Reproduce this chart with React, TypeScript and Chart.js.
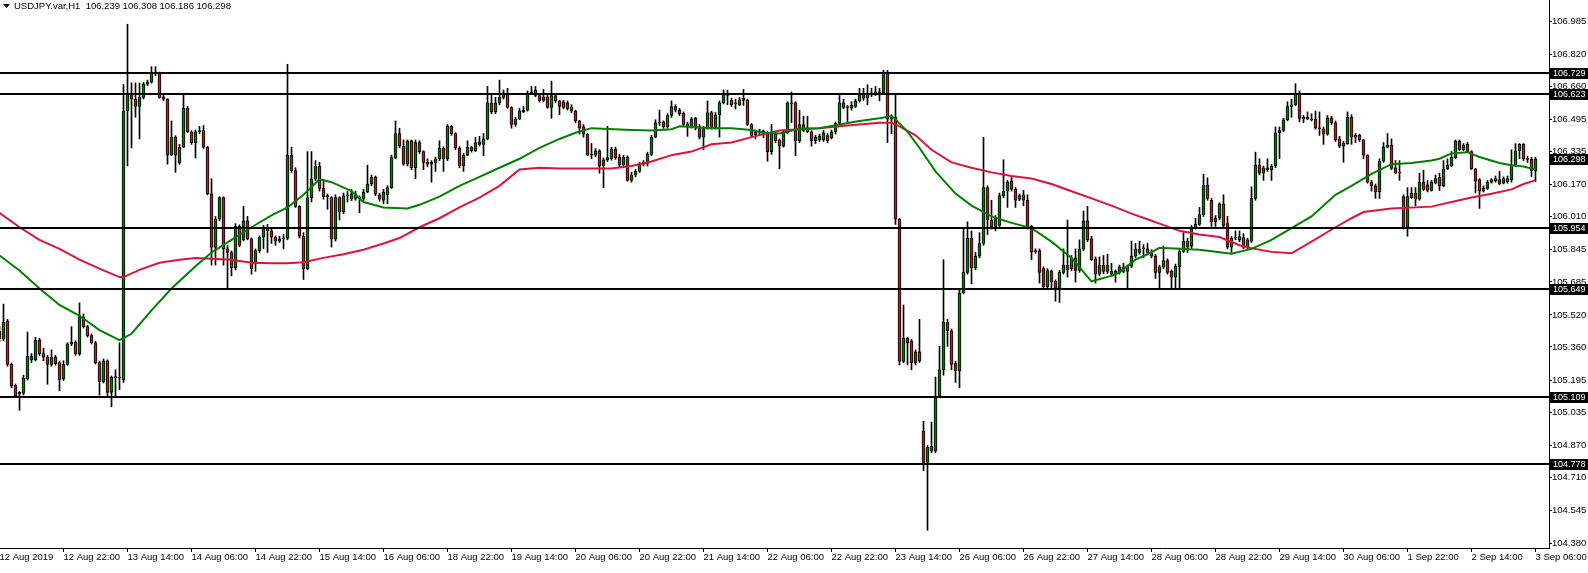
import React, { useEffect, useRef } from 'react';
import { Chart, registerables } from 'chart.js';

Chart.register(...registerables);

// ---- Data (USDJPY H1) ----
const opens = [
  105.440,105.399,105.489,105.273,105.169,105.133,105.129,105.201,105.295,105.295,
  105.394,105.327,105.309,105.273,105.309,105.282,105.201,105.273,105.376,105.385,
  105.327,105.511,105.462,105.417,105.381,105.282,105.187,105.291,105.133,105.212,
  105.205,105.196,106.540,106.621,106.598,106.561,106.607,106.673,106.682,106.733,
  106.727,106.610,106.598,106.318,106.408,106.279,106.358,106.552,106.435,106.381,
  106.435,106.441,106.358,106.125,105.857,105.999,106.106,105.850,105.832,105.756,
  105.962,105.895,105.990,105.900,105.778,105.841,105.909,105.958,105.940,105.909,
  105.889,105.900,105.904,106.318,106.241,106.062,105.913,105.751,106.106,106.198,
  106.264,106.152,106.111,106.106,105.898,106.106,106.034,106.115,106.098,106.125,
  106.102,106.102,106.134,106.174,106.207,106.120,106.093,106.120,106.156,106.306,
  106.426,106.363,106.273,106.390,106.255,106.381,106.336,106.282,106.273,106.279,
  106.300,106.354,106.300,106.462,106.426,106.354,106.264,106.318,106.358,106.340,
  106.372,106.372,106.399,106.579,106.534,106.579,106.607,106.628,106.556,106.471,
  106.498,106.534,106.543,106.628,106.643,106.616,106.610,106.610,106.556,106.616,
  106.589,106.585,106.552,106.560,106.538,106.489,106.459,106.423,106.318,106.318,
  106.340,106.264,106.295,106.300,106.349,106.309,106.268,106.309,106.192,106.219,
  106.237,106.273,106.277,106.322,106.408,106.480,106.484,106.459,106.516,106.561,
  106.543,106.527,106.475,106.459,106.502,106.459,106.408,106.453,106.531,106.453,
  106.520,106.579,106.621,106.592,106.574,106.570,106.603,106.592,106.471,106.421,
  106.435,106.439,106.430,106.336,106.426,106.394,106.363,106.430,106.574,106.579,
  106.390,106.471,106.453,106.435,106.390,106.394,106.394,106.416,106.405,106.435,
  106.477,106.579,106.556,106.553,106.561,106.589,106.625,106.603,106.628,106.621,
  106.634,106.628,106.733,106.498,106.507,105.998,105.288,105.405,105.390,105.282,
  105.336,104.940,104.783,104.864,104.841,105.115,105.246,105.484,105.441,105.277,
  105.241,105.630,105.733,105.904,105.756,105.814,105.877,106.156,105.994,105.958,
  105.967,106.116,106.138,106.188,106.147,106.098,106.120,106.093,105.962,105.835,
  105.841,105.751,105.661,105.738,105.688,105.652,105.733,105.769,105.751,105.805,
  105.742,105.850,105.990,105.900,105.800,105.724,105.769,105.738,105.738,105.724,
  105.733,105.760,105.738,105.763,105.814,105.832,105.850,105.850,105.835,105.814,
  105.733,105.760,105.792,105.738,105.709,105.760,105.837,105.889,105.864,105.958,
  105.972,106.021,106.169,106.093,105.985,106.003,106.075,105.976,105.859,105.904,
  105.895,105.907,105.859,105.889,106.102,106.268,106.228,106.255,106.246,106.264,
  106.430,106.441,106.495,106.561,106.570,106.625,106.507,106.498,106.498,106.498,
  106.453,106.450,106.423,106.504,106.480,106.399,106.363,106.376,106.507,106.408,
  106.417,106.394,106.318,106.183,106.165,106.134,106.288,106.358,106.369,106.255,
  106.228,106.111,105.958,106.106,106.129,106.098,106.183,106.170,106.142,106.178,
  106.207,106.165,106.250,106.264,106.306,106.387,106.345,106.372,106.336,106.250,
  106.196,106.138,106.152,106.183,106.188,106.196,106.178,106.183,106.196,106.268,
  106.340,106.372,106.300,106.297,106.239,
];

const highs = [
  105.465,105.574,105.498,105.280,105.175,105.138,105.219,105.435,105.327,105.408,
  105.403,105.354,105.318,105.345,105.318,105.290,105.291,105.381,105.462,105.390,
  105.580,105.525,105.468,105.425,105.388,105.290,105.300,105.296,105.215,105.246,
  105.381,106.670,106.972,106.679,106.679,106.679,106.682,106.693,106.760,106.760,
  106.733,106.621,106.600,106.489,106.415,106.372,106.619,106.561,106.440,106.444,
  106.462,106.466,106.362,106.201,106.012,106.111,106.110,105.868,105.840,105.976,
  105.970,106.062,106.012,105.905,105.850,105.915,105.967,105.972,105.949,105.915,
  105.913,105.922,106.772,106.358,106.255,106.066,105.931,106.336,106.336,106.291,
  106.282,106.192,106.124,106.111,106.120,106.110,106.129,106.138,106.147,106.138,
  106.115,106.147,106.268,106.219,106.214,106.129,106.147,106.165,106.318,106.489,
  106.453,106.394,106.394,106.394,106.394,106.390,106.340,106.300,106.291,106.309,
  106.390,106.360,106.471,106.466,106.430,106.360,106.327,106.390,106.363,106.408,
  106.412,106.426,106.661,106.616,106.607,106.693,106.643,106.652,106.560,106.507,
  106.552,106.561,106.639,106.661,106.661,106.621,106.646,106.616,106.688,106.621,
  106.592,106.592,106.589,106.570,106.543,106.492,106.471,106.426,106.376,106.351,
  106.345,106.304,106.462,106.358,106.358,106.322,106.318,106.315,106.232,106.246,
  106.282,106.291,106.333,106.417,106.495,106.543,106.489,106.525,106.589,106.570,
  106.552,106.534,106.484,106.507,106.507,106.471,106.462,106.589,106.538,106.531,
  106.589,106.643,106.643,106.603,106.598,106.607,106.646,106.598,106.475,106.444,
  106.448,106.444,106.435,106.471,106.435,106.399,106.441,106.585,106.634,106.585,
  106.543,106.513,106.513,106.440,106.417,106.423,106.441,106.426,106.444,106.484,
  106.616,106.598,106.567,106.585,106.598,106.652,106.652,106.670,106.652,106.661,
  106.652,106.742,106.742,106.520,106.621,106.003,105.570,105.408,105.399,105.345,
  105.498,104.989,104.868,104.985,105.210,105.363,105.796,105.498,105.450,105.288,
  105.643,105.958,105.985,105.940,105.832,105.931,106.408,106.165,106.093,106.016,
  106.129,106.295,106.192,106.210,106.156,106.124,106.142,106.120,105.967,105.850,
  105.850,105.760,105.751,105.745,105.695,105.742,105.850,105.994,105.817,105.850,
  105.895,106.039,106.062,105.913,105.810,105.810,105.817,105.823,105.778,105.745,
  105.769,105.778,105.769,105.889,105.877,105.889,105.871,105.877,105.846,105.823,
  105.769,105.864,105.800,105.745,105.774,105.850,105.931,105.904,105.967,106.003,
  106.057,106.223,106.205,106.102,106.016,106.080,106.120,106.012,105.913,105.940,
  105.940,105.926,105.904,106.160,106.333,106.300,106.264,106.300,106.273,106.459,
  106.459,106.502,106.585,106.598,106.675,106.639,106.516,106.534,106.525,106.538,
  106.534,106.459,106.516,106.513,106.489,106.412,106.387,106.534,106.520,106.426,
  106.423,106.397,106.320,106.192,106.174,106.300,106.381,106.426,106.399,106.291,
  106.291,106.120,106.156,106.156,106.156,106.228,106.243,106.192,106.192,106.219,
  106.228,106.291,106.300,106.336,106.394,106.394,106.376,106.381,106.340,106.252,
  106.201,106.165,106.192,106.201,106.214,106.237,106.210,106.214,106.345,106.376,
  106.376,106.376,106.311,106.307,106.308,
];

const lows = [
  105.385,105.390,105.264,105.156,105.108,105.044,105.120,105.195,105.282,105.290,
  105.318,105.291,105.174,105.264,105.270,105.142,105.192,105.268,105.367,105.318,
  105.318,105.455,105.410,105.375,105.275,105.120,105.180,105.111,105.061,105.111,
  105.147,105.183,106.264,106.354,106.507,106.399,106.598,106.665,106.678,106.715,
  106.603,106.589,106.273,106.315,106.232,106.273,106.355,106.430,106.372,106.304,
  106.426,106.352,106.120,105.769,105.769,105.990,105.769,105.652,105.715,105.745,
  105.860,105.889,105.895,105.724,105.738,105.832,105.850,105.832,105.877,105.868,
  105.882,105.850,105.895,106.232,106.057,105.904,105.697,105.745,106.084,106.192,
  106.138,106.098,106.048,105.859,105.889,105.994,106.026,106.084,106.091,106.093,
  106.030,106.091,106.130,106.165,106.116,106.088,106.075,106.075,106.152,106.300,
  106.354,106.268,106.264,106.246,106.201,106.327,106.246,106.261,106.183,106.237,
  106.291,106.237,106.291,106.417,106.345,106.255,106.237,106.315,106.333,106.336,
  106.363,106.315,106.394,106.525,106.525,106.570,106.598,106.552,106.453,106.462,
  106.495,106.531,106.538,106.621,106.610,106.583,106.585,106.552,106.502,106.579,
  106.520,106.549,106.543,106.531,106.480,106.423,106.408,106.315,106.300,106.311,
  106.228,106.156,106.286,106.293,106.297,106.261,106.264,106.188,106.183,106.210,
  106.232,106.264,106.264,106.315,106.405,106.466,106.452,106.453,106.507,106.534,
  106.516,106.466,106.412,106.453,106.444,106.399,106.345,106.448,106.448,106.448,
  106.408,106.574,106.570,106.561,106.549,106.565,106.567,106.466,106.408,106.399,
  106.417,106.405,106.288,106.322,106.381,106.250,106.358,106.426,106.480,106.315,
  106.381,106.435,106.430,106.363,106.376,106.387,106.387,106.381,106.399,106.423,
  106.471,106.549,106.484,106.543,106.556,106.583,106.592,106.570,106.610,106.616,
  106.589,106.621,106.381,106.426,105.972,105.270,105.282,105.270,105.246,105.270,
  105.282,104.742,104.444,104.832,104.832,105.111,105.219,105.363,105.246,105.183,
  105.156,105.625,105.724,105.675,105.745,105.805,105.868,105.922,105.949,105.940,
  105.962,106.106,106.057,106.138,106.057,106.091,106.066,105.949,105.796,105.828,
  105.679,105.655,105.655,105.652,105.589,105.583,105.724,105.709,105.742,105.684,
  105.733,105.841,105.886,105.792,105.679,105.715,105.727,105.727,105.715,105.684,
  105.724,105.731,105.652,105.756,105.805,105.823,105.805,105.823,105.805,105.702,
  105.652,105.751,105.724,105.652,105.652,105.652,105.832,105.832,105.853,105.949,
  105.967,106.012,106.093,105.962,105.962,105.994,105.958,105.850,105.832,105.895,
  105.886,105.850,105.850,105.882,106.093,106.219,106.192,106.237,106.192,106.255,
  106.300,106.435,106.489,106.507,106.565,106.484,106.480,106.495,106.489,106.448,
  106.417,106.372,106.417,106.471,106.387,106.355,106.282,106.372,106.372,106.381,
  106.387,106.300,106.178,106.138,106.102,106.102,106.282,106.354,106.246,106.225,
  106.192,105.949,105.913,106.102,106.066,106.093,106.142,106.134,106.138,106.174,
  106.142,106.160,106.246,106.261,106.300,106.340,106.340,106.333,106.246,106.129,
  106.052,106.134,106.147,106.178,106.183,106.170,106.174,106.178,106.183,106.261,
  106.300,106.291,106.282,106.210,106.186,
];

const closes = [
  105.400,105.484,105.273,105.165,105.115,105.126,105.205,105.313,105.313,105.394,
  105.327,105.309,105.273,105.309,105.277,105.197,105.273,105.376,105.385,105.327,
  105.511,105.462,105.417,105.381,105.282,105.187,105.291,105.133,105.210,105.205,
  105.210,106.540,106.621,106.598,106.561,106.610,106.673,106.682,106.733,106.724,
  106.607,106.598,106.318,106.408,106.318,106.358,106.552,106.435,106.381,106.435,
  106.441,106.358,106.125,105.857,105.999,106.106,105.850,105.832,105.756,105.962,
  105.868,105.990,105.900,105.751,105.841,105.909,105.958,105.940,105.909,105.889,
  105.900,105.904,106.318,106.241,106.062,105.913,105.751,106.106,106.198,106.264,
  106.152,106.111,106.116,105.898,106.106,106.034,106.115,106.120,106.125,106.102,
  106.106,106.134,106.174,106.207,106.124,106.098,106.134,106.156,106.306,106.426,
  106.363,106.273,106.390,106.255,106.381,106.336,106.282,106.273,106.282,106.300,
  106.354,106.300,106.462,106.426,106.354,106.264,106.318,106.358,106.340,106.381,
  106.385,106.399,106.579,106.534,106.579,106.607,106.628,106.556,106.471,106.498,
  106.540,106.543,106.628,106.634,106.616,106.589,106.592,106.556,106.616,106.589,
  106.561,106.556,106.579,106.538,106.489,106.453,106.423,106.318,106.325,106.340,
  106.264,106.295,106.306,106.349,106.304,106.268,106.309,106.192,106.219,106.237,
  106.273,106.282,106.322,106.408,106.480,106.484,106.459,106.516,106.561,106.543,
  106.525,106.471,106.459,106.498,106.453,106.408,106.453,106.531,106.453,106.520,
  106.579,106.621,106.616,106.570,106.574,106.594,106.592,106.471,106.417,106.435,
  106.439,106.423,106.336,106.430,106.390,106.363,106.430,106.579,106.574,106.390,
  106.471,106.441,106.435,106.390,106.408,106.412,106.430,106.390,106.435,106.477,
  106.579,106.556,106.560,106.567,106.589,106.625,106.603,106.628,106.621,106.634,
  106.628,106.733,106.498,106.507,105.998,105.288,105.405,105.381,105.282,105.336,
  105.291,104.783,104.859,104.841,105.115,105.246,105.484,105.441,105.273,105.241,
  105.630,105.733,105.904,105.756,105.814,105.877,106.156,105.994,105.958,106.003,
  106.116,106.138,106.183,106.147,106.093,106.116,106.093,105.958,105.835,105.841,
  105.733,105.661,105.742,105.684,105.652,105.733,105.769,105.745,105.805,105.742,
  105.850,105.990,105.895,105.796,105.724,105.769,105.738,105.769,105.724,105.738,
  105.760,105.738,105.763,105.814,105.850,105.850,105.850,105.832,105.814,105.733,
  105.760,105.792,105.733,105.709,105.763,105.837,105.889,105.859,105.958,105.972,
  106.021,106.169,106.102,105.985,106.003,106.075,105.967,105.859,105.904,105.907,
  105.911,105.859,105.895,106.102,106.268,106.228,106.255,106.246,106.264,106.430,
  106.441,106.495,106.561,106.570,106.625,106.502,106.498,106.507,106.495,106.453,
  106.450,106.423,106.504,106.480,106.394,106.363,106.378,106.507,106.408,106.417,
  106.394,106.318,106.183,106.165,106.134,106.288,106.358,106.369,106.252,106.228,
  106.232,105.958,106.111,106.129,106.098,106.183,106.147,106.142,106.183,106.201,
  106.165,106.250,106.268,106.309,106.390,106.345,106.369,106.336,106.250,106.188,
  106.138,106.152,106.183,106.196,106.201,106.174,106.201,106.201,106.268,106.340,
  106.372,106.300,106.297,106.239,106.298,
];

// Moving averages (bar index -> price)
const slowMaIdx = [0,5,10,15,20,25,30,31,35,40,45,49,53,58,63,68,72,76,81,86,91,96,100,105,110,115,120,125,130,135,140,144,153,158,163,168,173,178,183,188,191,195,200,205,210,215,220,223,225,229,233,238,243,248,253,258,263,268,273,278,283,287,290,295,300,305,310,313,318,323,328,334,338,341,348,358,363,368,373,378,381,384];
const slowMaVal = [106.030,105.958,105.895,105.850,105.796,105.751,105.709,105.709,105.745,105.781,105.796,105.805,105.801,105.796,105.781,105.778,105.778,105.783,105.805,105.823,105.846,105.877,105.904,105.958,106.003,106.057,106.106,106.165,106.246,106.255,106.252,106.252,106.252,106.264,106.286,106.318,106.336,106.372,106.381,106.408,106.423,106.441,106.448,106.453,106.462,106.471,106.480,106.480,106.462,106.417,106.345,106.282,106.255,106.232,106.214,106.201,106.174,106.138,106.102,106.066,106.026,105.998,105.976,105.940,105.922,105.909,105.868,105.853,105.835,105.828,105.886,105.958,106.003,106.034,106.052,106.061,106.084,106.107,106.125,106.147,106.174,106.192];

const fastMaIdx = [0,5,10,15,20,25,30,33,38,43,49,53,58,63,68,72,76,80,83,88,91,96,102,105,110,115,120,125,130,135,140,144,148,158,163,168,170,178,183,188,191,195,200,205,210,215,220,223,224,227,230,234,239,243,248,253,258,263,268,273,278,280,284,287,290,295,300,308,313,318,323,328,334,338,343,348,353,358,360,363,367,370,375,378,381,384];
const fastMaVal = [105.817,105.742,105.652,105.570,105.516,105.444,105.394,105.426,105.543,105.652,105.763,105.832,105.895,105.958,106.017,106.057,106.120,106.198,106.183,106.138,106.084,106.057,106.052,106.070,106.111,106.165,106.210,106.255,106.300,106.354,106.399,106.430,106.453,106.444,106.441,106.448,106.462,106.453,106.453,106.444,106.430,106.426,106.450,106.453,106.471,106.489,106.502,106.513,106.498,106.435,106.354,106.237,106.126,106.066,106.012,105.980,105.954,105.886,105.805,105.688,105.715,105.733,105.796,105.823,105.855,105.850,105.846,105.826,105.850,105.895,105.954,106.012,106.120,106.165,106.225,106.273,106.279,106.291,106.300,106.327,106.333,106.309,106.279,106.268,106.261,106.246];

const levels = [106.729, 106.623, 105.954, 105.649, 105.109, 104.778];
const bidPrice = 106.298;

const yTicks = [106.985,106.820,106.660,106.495,106.335,106.170,106.010,105.845,105.685,105.520,105.360,105.195,105.035,104.870,104.710,104.545,104.380];

const xLabelIdx = [0,16,32,48,64,80,96,112,128,144,160,176,192,208,224,240,256,272,288,304,320,336,352,368,384];
const xLabels = ['12 Aug 2019','12 Aug 22:00','13 Aug 14:00','14 Aug 06:00','14 Aug 22:00','15 Aug 14:00','16 Aug 06:00','18 Aug 22:00','19 Aug 14:00','20 Aug 06:00','20 Aug 22:00','21 Aug 14:00','22 Aug 06:00','22 Aug 22:00','23 Aug 14:00','26 Aug 06:00','26 Aug 22:00','27 Aug 14:00','28 Aug 06:00','28 Aug 22:00','29 Aug 14:00','30 Aug 06:00','1 Sep 22:00','2 Sep 14:00','3 Sep 06:00'];

const titleText = 'USDJPY.var,H1  106.239 106.308 106.186 106.298';

const FONT = "'Liberation Sans', Arial, sans-serif";
const BULL = '#008000';
const BEAR = '#B22222';

const overlayPlugin = {
  id: 'mtOverlay',
  afterDatasetsDraw(chart: any) {
    const { ctx, chartArea } = chart;
    const y = chart.scales.y;
    ctx.save();
    ctx.strokeStyle = '#000';
    ctx.lineWidth = 2;
    levels.forEach((v) => {
      const py = Math.round(y.getPixelForValue(v));
      ctx.beginPath();
      ctx.moveTo(chartArea.left, py);
      ctx.lineTo(chartArea.right, py);
      ctx.stroke();
    });
    ctx.restore();
  },
  afterDraw(chart: any) {
    const { ctx, chartArea } = chart;
    const y = chart.scales.y;
    ctx.save();
    ctx.font = `9px ${FONT}`;
    ctx.textBaseline = 'middle';
    ctx.textAlign = 'left';
    [...levels, bidPrice].forEach((v) => {
      const py = Math.round(y.getPixelForValue(v));
      ctx.fillStyle = '#000';
      ctx.fillRect(chartArea.right, py - 5, chart.width - chartArea.right, 11);
      ctx.fillStyle = '#fff';
      ctx.fillText(v.toFixed(3), chartArea.right + 4, py + 0.5);
    });
    ctx.fillStyle = '#000';
    ctx.beginPath();
    ctx.moveTo(3, 4);
    ctx.lineTo(10, 4);
    ctx.lineTo(6.5, 8);
    ctx.closePath();
    ctx.fill();
    ctx.font = `9.5px ${FONT}`;
    ctx.fillText(titleText, 14, 6.5);
    ctx.restore();
  },
};

export default function App() {
  const ref = useRef<HTMLCanvasElement>(null);

  useEffect(() => {
    document.body.style.margin = '0';
    const canvas = ref.current;
    if (!canvas) return;
    const idx = opens.map((_, i) => i);

    const chart = new Chart(canvas, {
      type: 'bar',
      data: {
        datasets: [
          {
            type: 'line',
            label: 'fast',
            data: fastMaIdx.map((x, k) => ({ x, y: fastMaVal[k] })),
            borderColor: BULL,
            borderWidth: 2,
            pointRadius: 0,
            tension: 0,
            order: 0,
          } as any,
          {
            type: 'line',
            label: 'slow',
            data: slowMaIdx.map((x, k) => ({ x, y: slowMaVal[k] })),
            borderColor: '#DC143C',
            borderWidth: 2,
            pointRadius: 0,
            tension: 0,
            order: 1,
          } as any,
          {
            type: 'bar',
            label: 'body',
            data: idx.map((i) => ({ x: i, y: [opens[i], closes[i]] })),
            backgroundColor: (c: any) => (closes[c.dataIndex] >= opens[c.dataIndex] ? BULL : BEAR),
            borderColor: '#000',
            borderWidth: 1,
            borderSkipped: false,
            barThickness: 3,
            minBarLength: 1,
            grouped: false,
            order: 2,
          } as any,
          {
            type: 'bar',
            label: 'wick',
            data: idx.map((i) => ({ x: i, y: [lows[i], highs[i]] })),
            backgroundColor: '#000',
            borderWidth: 0,
            barThickness: 1,
            grouped: false,
            order: 3,
          } as any,
        ],
      },
      options: {
        responsive: false,
        devicePixelRatio: 1,
        animation: false,
        events: [],
        layout: { padding: 0 },
        plugins: { legend: { display: false }, tooltip: { enabled: false }, title: { display: false } },
        scales: {
          x: {
            type: 'linear',
            position: 'bottom',
            min: 0.125,
            max: 387.375,
            offset: false,
            grid: { display: true, offset: false, drawOnChartArea: false, drawTicks: true, tickLength: 4, color: '#000', lineWidth: 1 },
            border: { display: true, color: '#000', width: 1 },
            ticks: {
              autoSkip: false,
              maxRotation: 0,
              minRotation: 0,
              align: 'start',
              padding: 0,
              color: '#000',
              font: { family: FONT, size: 9.5 },
              callback: (_v: any, i: number) => xLabels[i],
            },
            afterBuildTicks: (s: any) => {
              s.ticks = xLabelIdx.map((v) => ({ value: v }));
            },
            afterFit: (s: any) => {
              s.height = 25;
              s.paddingLeft = 0;
              s.paddingRight = 0;
            },
          },
          y: {
            type: 'linear',
            position: 'right',
            min: 104.356,
            max: 107.093,
            beginAtZero: false,
            grid: { display: true, drawOnChartArea: false, drawTicks: true, tickLength: 3, color: '#000', lineWidth: 1 },
            border: { display: true, color: '#000', width: 1 },
            ticks: {
              autoSkip: false,
              padding: 0,
              color: '#000',
              font: { family: FONT, size: 9.5 },
              callback: (v: any) => Number(v).toFixed(3),
            },
            afterBuildTicks: (s: any) => {
              s.ticks = yTicks.map((v) => ({ value: v }));
            },
            afterFit: (s: any) => {
              s.width = 39;
              s.paddingTop = 0;
              s.paddingBottom = 0;
            },
          },
        },
      } as any,
      plugins: [overlayPlugin],
    });

    return () => chart.destroy();
  }, []);

  return (
    <div style={{ width: 1588, height: 573, position: 'relative', background: '#fff' }}>
      <canvas ref={ref} width={1588} height={573} style={{ display: 'block' }} />
    </div>
  );
}
